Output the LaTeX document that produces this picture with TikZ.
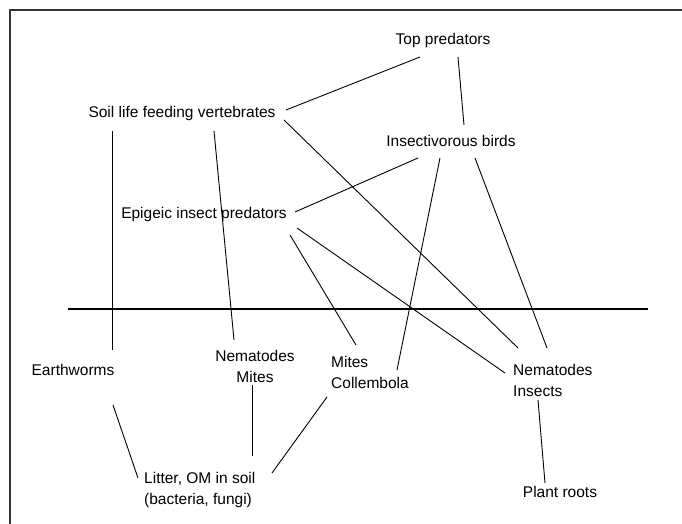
\documentclass[tikz,border=0pt]{standalone}
\usepackage{fontspec}
\setmainfont{Liberation Sans}
\begin{document}
\begin{tikzpicture}[x=1pt,y=-1pt,
  lbl/.style={inner sep=0pt,font=\fontsize{15.5}{21}\selectfont,align=center},
  lbll/.style={inner sep=0pt,font=\fontsize{15.5}{21}\selectfont,align=left,anchor=west},
  link/.style={line width=0.9pt,black},
  frame/.style={line width=2pt,black!80}]
\useasboundingbox (0,0) rectangle (682,524);
\draw[frame] (10,524) -- (10,10) -- (682,10);
\draw[line width=2.4pt] (68,309) -- (648,309);
\node[lbl] (top) at (443,40) {Top predators};
\node[lbl] (slfv) at (182,113) {Soil life feeding vertebrates};
\node[lbl] (birds) at (451,141) {Insectivorous birds};
\node[lbl] (epi) at (204,214) {Epigeic insect predators};
\node[lbl] (earth) at (73,370) {Earthworms};
\node[lbl] (nm) at (255,366) {Nematodes\\Mites};
\node[lbll] (mc) at (331,372) {Mites\\Collembola};
\node[lbll] (ni) at (513,380) {Nematodes\\Insects};
\node[lbll] (lit) at (144,490) {Litter, OM in soil\\(bacteria, fungi)};
\node[lbl] (plant) at (560,492) {Plant roots};
\draw[link] ([shift={(-23,17)}]top.center) -- ([shift={(104,-3)}]slfv.center);
\draw[link] ([shift={(15,17)}]top.center) -- ([shift={(13,-16)}]birds.center);
\draw[link] ([shift={(-70,18)}]slfv.center) -- ([shift={(39,-20)}]earth.center);
\draw[link] ([shift={(32,18)}]slfv.center) -- ([shift={(-21,-26)}]nm.center);
\draw[link] ([shift={(102,7)}]slfv.center) -- ([shift={(5,-32)}]ni.west);
\draw[link] ([shift={(-33,17)}]birds.center) -- ([shift={(91,-2)}]epi.center);
\draw[link] ([shift={(-11,17)}]birds.center) -- ([shift={(66,-2)}]mc.west);
\draw[link] ([shift={(24,17)}]birds.center) -- ([shift={(34,-32)}]ni.west);
\draw[link] ([shift={(86,21)}]epi.center) -- ([shift={(25,-27)}]mc.west);
\draw[link] ([shift={(93,14)}]epi.center) -- ([shift={(-8,-7)}]ni.west);
\draw[link] ([shift={(40,35)}]earth.center) -- ([shift={(-6,-12)}]lit.west);
\draw[link] ([shift={(-3,19)}]nm.center) -- ([shift={(108,-34)}]lit.west);
\draw[link] ([shift={(-4,25)}]mc.west) -- ([shift={(128,-17)}]lit.west);
\draw[link] ([shift={(25,20)}]ni.west) -- ([shift={(-15,-9)}]plant.center);
\end{tikzpicture}
\end{document}
